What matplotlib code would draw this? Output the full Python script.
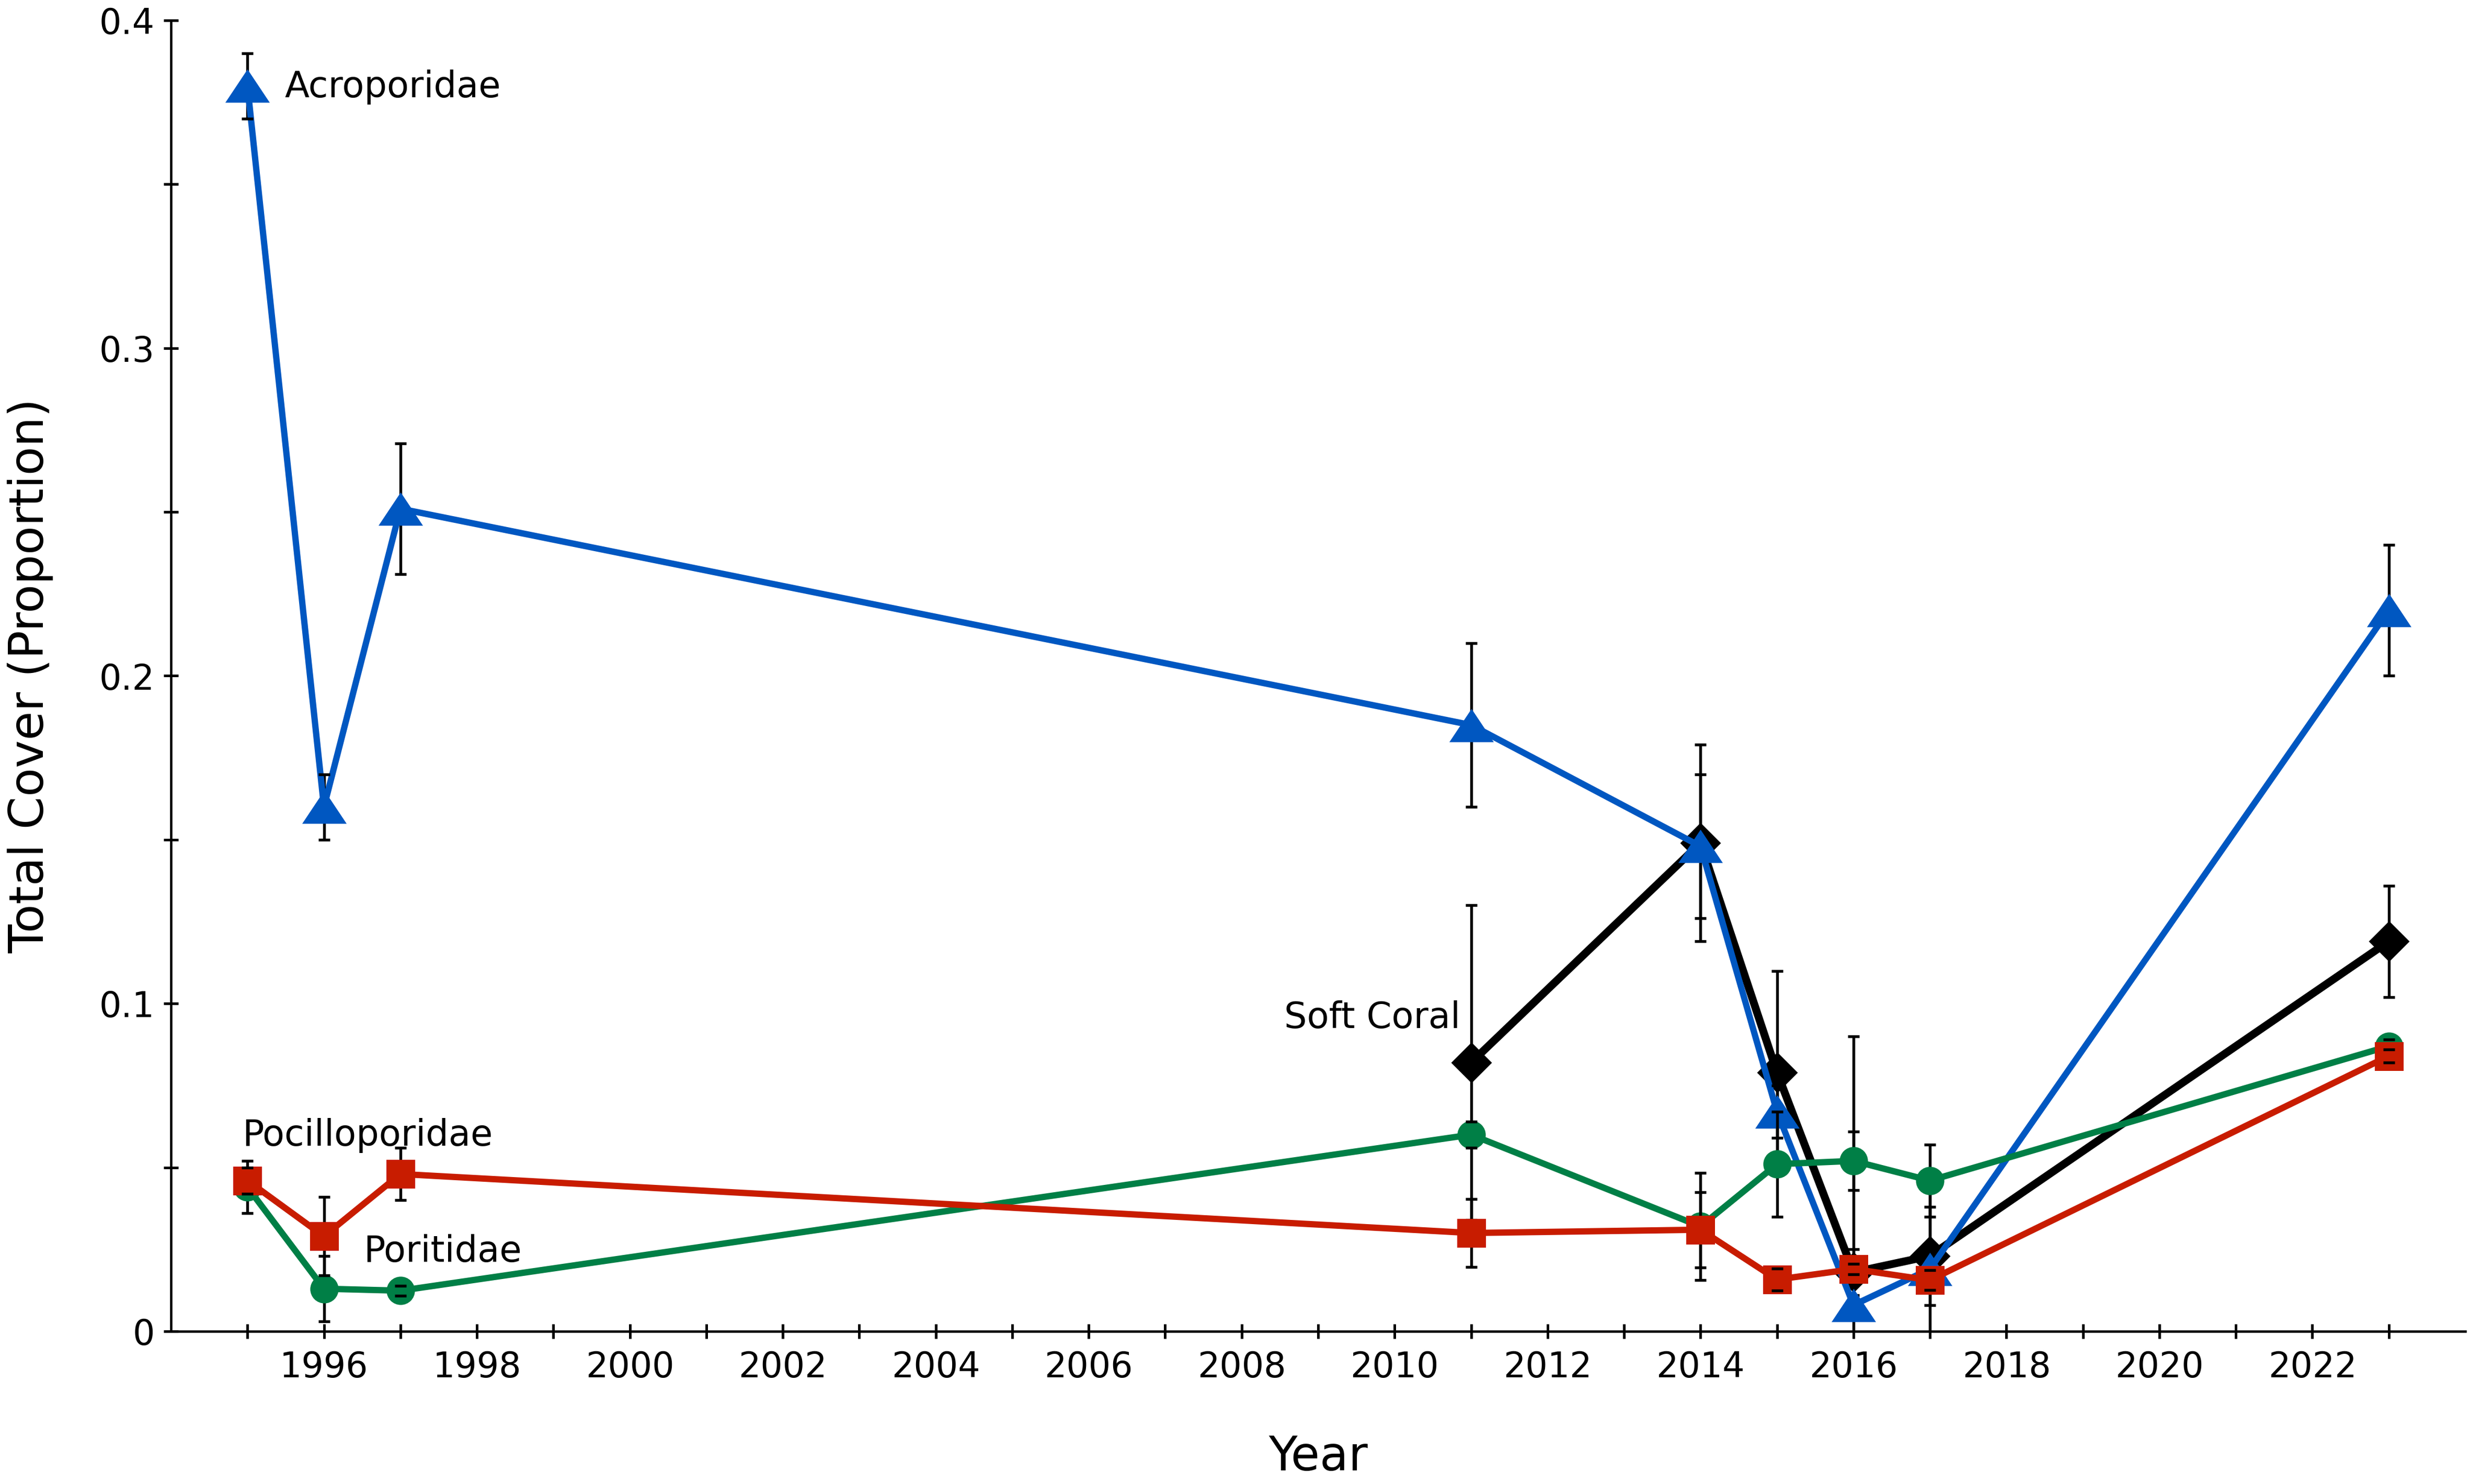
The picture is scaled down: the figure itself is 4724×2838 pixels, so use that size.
import numpy as np
import matplotlib
matplotlib.use("Agg")
import matplotlib.pyplot as plt
from matplotlib.ticker import FixedLocator

plt.rcParams['font.family'] = ['DejaVu Sans']

# survey years
years = [1995, 1996, 1997, 2011, 2014, 2015, 2016, 2017, 2023]
soft_years = [2011, 2014, 2015, 2016, 2017, 2023]

# mean cover and error
acro = [0.380, 0.160, 0.251, 0.185, 0.148, 0.067, 0.008, 0.019, 0.220]
acro_err = [0.010, 0.010, 0.020, 0.025, 0.022, 0.008, 0.082, 0.026, 0.020]

soft = [0.082, 0.149, 0.079, 0.018, 0.023, 0.119]
soft_err = [0.048, 0.030, 0.031, 0.007, 0.015, 0.017]

porit = [0.044, 0.013, 0.0124, 0.060, 0.032, 0.051, 0.052, 0.046, 0.087]
porit_err = [0.008, 0.010, 0.0015, 0.004, 0.0163, 0.016, 0.009, 0.011, 0.002]

pocil = [0.046, 0.029, 0.048, 0.030, 0.031, 0.0158, 0.019, 0.0156, 0.084]
pocil_err = [0.004, 0.012, 0.008, 0.0103, 0.0115, 0.0033, 0.0016, 0.003, 0.002]

yticks = [0, 0.1, 0.2, 0.3, 0.4]
ytick_labels = ['0', '0.1', '0.2', '0.3', '0.4']
xticks = list(range(1996, 2023, 2))

blue = '#0057C1'
red = '#C81C00'
green = '#007F46'

tri = [(-1, -0.75), (1, -0.75), (0, 0.75)]
dia = [(0, 1), (1, 0), (0, -1), (-1, 0)]

fig = plt.figure(figsize=(4724 / 300, 2838 / 300), dpi=300)
ax = fig.add_axes([327 / 4724, 1 - 2546 / 2838, (4715 - 327) / 4724, (2546 - 39) / 2838])


def series(x, y, err, color, marker, ms, lw, z):
    ax.plot(x, y, color=color, lw=lw, marker=marker, ms=ms, mew=0, zorder=z)
    _, caps, bars = ax.errorbar(x, y, yerr=err, fmt='none', ecolor='black',
                                elinewidth=1.3, capsize=2.75, capthick=1.3)
    # stems go under the marker, caps sit on top of it
    for b in bars:
        b.set_zorder(z - 0.2)
    for c in caps:
        c.set_zorder(z + 0.5)


series(soft_years, soft, soft_err, 'black', dia, 18.7, 3.6, 2)
series(years, acro, acro_err, blue, tri, 20.4, 2.9, 3)
series(years, porit, porit_err, green, 'o', 13, 2.9, 4)
series(years, pocil, pocil_err, red, 's', 13.2, 2.9, 5)

# series labels
ax.text(1995.49, 0.3766, 'Acroporidae', fontsize=16.5, va='baseline', ha='left')
ax.text(2010.86, 0.0925, 'Soft Coral', fontsize=16.5, va='baseline', ha='right')
ax.text(1994.93, 0.0566, 'Pocilloporidae', fontsize=16.5, va='baseline', ha='left')
ax.text(1996.52, 0.0212, 'Poritidae', fontsize=16.5, va='baseline', ha='left')

ax.set_xlim(1994, 2024)
ax.set_ylim(0, 0.4)

ax.xaxis.set_major_locator(FixedLocator(xticks))
ax.xaxis.set_minor_locator(FixedLocator(list(range(1995, 2024))))
ax.set_xticklabels([str(v) for v in xticks])
ax.yaxis.set_major_locator(FixedLocator(yticks))
ax.yaxis.set_minor_locator(FixedLocator([0.05, 0.15, 0.25, 0.35]))
ax.set_yticklabels(ytick_labels)

for s in ['top', 'right']:
    ax.spines[s].set_visible(False)
for s in ['left', 'bottom']:
    ax.spines[s].set_linewidth(1.1)

ax.tick_params(axis='both', which='both', direction='inout', length=6.5,
               width=1.2, labelsize=16)
ax.tick_params(axis='x', which='both', pad=5.4)
ax.tick_params(axis='y', which='both', pad=4.2)

fig.text(2521 / 4724, 1 - 2812 / 2838, 'Year', fontsize=21.5,
         ha='center', va='baseline')
fig.text(83 / 4724, 1 - 1292 / 2838, 'Total Cover (Proportion)', fontsize=21.5,
         rotation=90, rotation_mode='anchor', ha='center', va='baseline')

fig.savefig('out.png', dpi=300)
